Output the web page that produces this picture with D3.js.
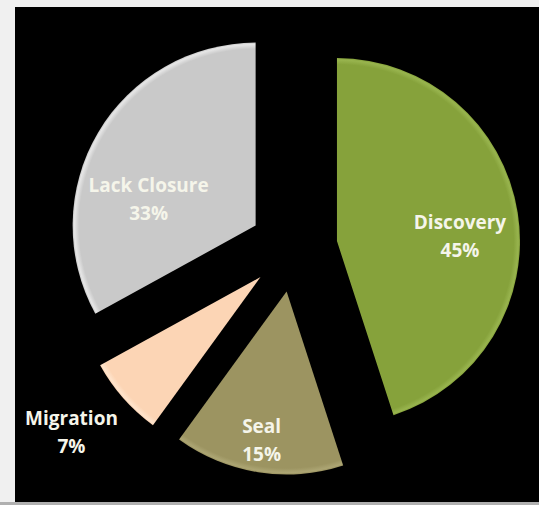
<!DOCTYPE html>
<html><head><meta charset="utf-8">
<script src="https://cdn.jsdelivr.net/npm/d3@7"></script>
<style>
html,body{margin:0;padding:0;background:#f0f0f0;}
svg{display:block;}
</style></head>
<body>
<svg id="chart" width="539" height="505"></svg>
<script>
// ---- data ----
const categories = ["Discovery", "Seal", "Migration", "Lack Closure"];
const values = [45, 15, 7, 33];
const labels = ["45%", "15%", "7%", "33%"];

// ---- style / layout ----
const colors = ["#86a23b", "#9c9461", "#fcd5b5", "#c9c9c9"];
const highlight = ["#98b44e", "#aca573", "#fee4cc", "#e6e6e6"];
// label offsets relative to each exploded slice's apex
const labelOffset = [[123, -10], [-25, 144], [-189, 150], [-107, -32]];

const W = 539, H = 505;
const svg = d3.select("#chart");

svg.append("rect").attr("x", 0).attr("y", 0).attr("width", W).attr("height", H).attr("fill", "#f0f0f0");
svg.append("rect").attr("x", 0).attr("y", 502).attr("width", W).attr("height", 3).attr("fill", "#b0b0b0");
svg.append("rect").attr("x", 15).attr("y", 7).attr("width", W - 15).attr("height", 495).attr("fill", "#000");

const cx = 293.5, cy = 248, R = 183, explode = 44;

const pie = d3.pie().sort(null).value(d => d.value).startAngle(0).endAngle(2 * Math.PI);
const data = categories.map((c, i) => ({ name: c, value: values[i], label: labels[i], i }));
const arcs = pie(data);
const arc = d3.arc().innerRadius(0).outerRadius(R);

const defs = svg.append("defs");
arcs.forEach((a, i) => {
  const g = defs.append("radialGradient").attr("id", "g" + i)
    .attr("gradientUnits", "userSpaceOnUse").attr("cx", 0).attr("cy", 0).attr("r", R);
  g.append("stop").attr("offset", "0.965").attr("stop-color", colors[i]);
  g.append("stop").attr("offset", "0.99").attr("stop-color", highlight[i]);
  g.append("stop").attr("offset", "1").attr("stop-color", colors[i]);
});

const slices = svg.append("g").attr("transform", `translate(${cx},${cy})`);
arcs.forEach((a, i) => {
  const mid = (a.startAngle + a.endAngle) / 2;
  const ox = Math.sin(mid) * explode, oy = -Math.cos(mid) * explode;
  const g = slices.append("g").attr("transform", `translate(${ox},${oy})`);
  g.append("path").attr("d", arc(a)).attr("fill", `url(#g${i})`);
  const t = g.append("text")
    .attr("x", labelOffset[i][0]).attr("y", labelOffset[i][1])
    .attr("text-anchor", "middle")
    .attr("font-family", "'Open Sans', sans-serif")
    .attr("font-weight", "bold").attr("font-size", 19)
    .attr("fill", "#f5f5ea");
  t.append("tspan").attr("x", labelOffset[i][0]).attr("dy", -2).text(a.data.name);
  t.append("tspan").attr("x", labelOffset[i][0]).attr("dy", 28).text(a.data.label);
});
</script>
</body></html>
